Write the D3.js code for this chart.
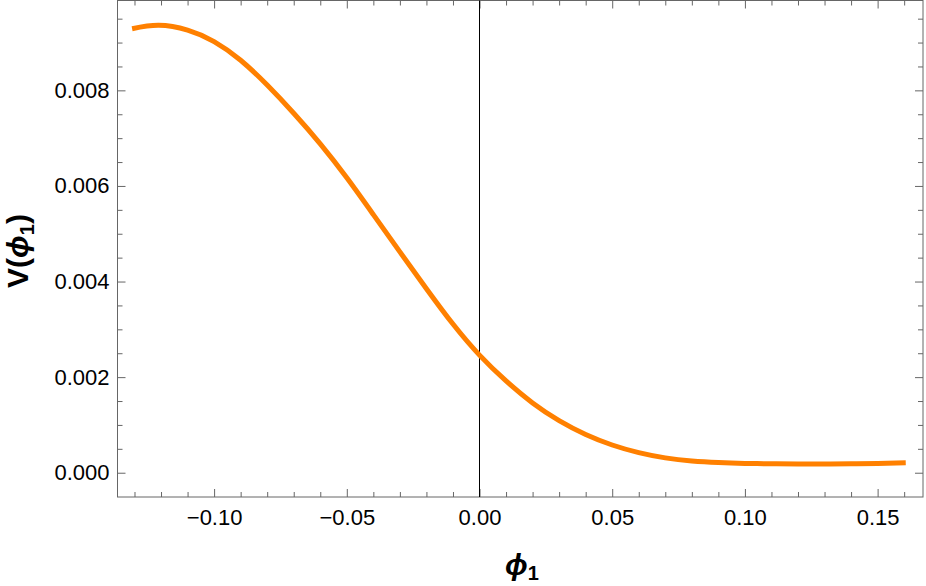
<!DOCTYPE html>
<head>
  <meta charset="UTF-8">
  <script src="https://d3js.org/d3.v7.min.js"></script>
  <style>
    body { margin: 0; background: #fff; }
    svg { display: block; font-family: "Liberation Sans", Arial, sans-serif; }
  </style>
</head>
<body>
<svg></svg>
<script>

var width = 926, height = 586;

// curve: phi_1 vs V(phi_1)
var phiVals = [-0.1309, -0.1209, -0.1100, -0.1000, -0.0900, -0.0800, -0.0700, -0.0600,
               -0.0500, -0.0400, -0.0300, -0.0200, -0.0100, 0.0000, 0.0100, 0.0200,
               0.0300, 0.0400, 0.0500, 0.0600, 0.0700, 0.0800, 0.0900, 0.1000,
               0.1100, 0.1200, 0.1300, 0.1400, 0.1500, 0.1606];
var vVals = [0.00929, 0.00936, 0.00926, 0.00902, 0.00863, 0.00811, 0.00752, 0.00688,
             0.00617, 0.00540, 0.00462, 0.00385, 0.00311, 0.00246, 0.00192, 0.00146,
             0.00109, 0.00080, 0.00058, 0.00042, 0.00031, 0.000245, 0.000212, 0.000195,
             0.000187, 0.000183, 0.000182, 0.000186, 0.000195, 0.000209];

var xTicks = [-0.10, -0.05, 0.00, 0.05, 0.10, 0.15];
var xTickLabels = ["\u22120.10", "\u22120.05", "0.00", "0.05", "0.10", "0.15"];
var yTicks = [0.000, 0.002, 0.004, 0.006, 0.008];
var yTickLabels = ["0.000", "0.002", "0.004", "0.006", "0.008"];

var pLeft = 117.5, pRight = 923, pTop = 0.5, pBottom = 497;

var x = d3.scaleLinear().domain([-0.1364, 0.1671]).range([pLeft, pRight]);
var y = d3.scaleLinear().domain([-0.000508, 0.00988]).range([pBottom, pTop]);

var xMinor = d3.range(-13, 17).map(function(i){ return i / 100; })
  .filter(function(v){ return xTicks.every(function(t){ return Math.abs(t - v) > 1e-9; }); });
var yMinor = d3.range(0, 20).map(function(i){ return i * 0.0005; })
  .filter(function(v){ return yTicks.every(function(t){ return Math.abs(t - v) > 1e-9; }); });

var svg = d3.select("svg").attr("width", width).attr("height", height);

var frameColor = "#666";

function styleAxis(g) {
  g.attr("font-size", null).attr("font-family", null);
  g.select(".domain").remove();
  g.selectAll(".tick line").attr("stroke", frameColor).attr("stroke-width", 1);
  g.selectAll(".tick text").attr("fill", "#000").style("font-size", "22px");
}

// bottom
svg.append("g").attr("transform", "translate(0," + pBottom + ")")
  .call(d3.axisBottom(x).tickValues(xTicks).tickSize(-8).tickPadding(12)
    .tickFormat(function(d, i){ return xTickLabels[i]; }))
  .call(styleAxis);
svg.append("g").attr("transform", "translate(0," + pBottom + ")")
  .call(d3.axisBottom(x).tickValues(xMinor).tickSize(-5).tickFormat(""))
  .call(styleAxis);
// top
svg.append("g").attr("transform", "translate(0," + pTop + ")")
  .call(d3.axisTop(x).tickValues(xTicks).tickSize(-8).tickFormat(""))
  .call(styleAxis);
svg.append("g").attr("transform", "translate(0," + pTop + ")")
  .call(d3.axisTop(x).tickValues(xMinor).tickSize(-5).tickFormat(""))
  .call(styleAxis);
// left
svg.append("g").attr("transform", "translate(" + pLeft + ",0)")
  .call(d3.axisLeft(y).tickValues(yTicks).tickSize(-8).tickPadding(8)
    .tickFormat(function(d, i){ return yTickLabels[i]; }))
  .call(styleAxis);
svg.append("g").attr("transform", "translate(" + pLeft + ",0)")
  .call(d3.axisLeft(y).tickValues(yMinor).tickSize(-5).tickFormat(""))
  .call(styleAxis);
// right
svg.append("g").attr("transform", "translate(" + pRight + ",0)")
  .call(d3.axisRight(y).tickValues(yTicks).tickSize(-8).tickFormat(""))
  .call(styleAxis);
svg.append("g").attr("transform", "translate(" + pRight + ",0)")
  .call(d3.axisRight(y).tickValues(yMinor).tickSize(-5).tickFormat(""))
  .call(styleAxis);

// frame
svg.append("rect")
  .attr("x", pLeft).attr("y", pTop)
  .attr("width", pRight - pLeft).attr("height", pBottom - pTop)
  .attr("fill", "none").attr("stroke", frameColor).attr("stroke-width", 1);

// vertical axis line at phi = 0
svg.append("line")
  .attr("x1", x(0)).attr("x2", x(0))
  .attr("y1", pTop).attr("y2", pBottom)
  .attr("stroke", "#000").attr("stroke-width", 1);

// curve
var pts = phiVals.map(function(p, i){ return [p, vVals[i]]; });
var line = d3.line()
  .x(function(d){ return x(d[0]); })
  .y(function(d){ return y(d[1]); })
  .curve(d3.curveNatural);

svg.append("path")
  .datum(pts)
  .attr("d", line)
  .attr("fill", "none")
  .attr("stroke", "#ff8000")
  .attr("stroke-width", 5)
  .attr("stroke-linecap", "butt")
  .attr("stroke-linejoin", "round");

// axis labels
var yl = svg.append("text")
  .attr("transform", "translate(28,251) rotate(-90)")
  .attr("text-anchor", "middle")
  .style("font-size", "30px").style("font-weight", "bold");
yl.append("tspan").text("V(");
yl.append("tspan").style("font-style", "italic").text("\u03d5");
yl.append("tspan").attr("dy", 6).style("font-size", "20px").text("1");
yl.append("tspan").attr("dy", -6).text(")");

var xl = svg.append("text")
  .attr("x", 522).attr("y", 575)
  .attr("text-anchor", "middle")
  .style("font-size", "30px").style("font-weight", "bold");
xl.append("tspan").style("font-style", "italic").text("\u03d5");
xl.append("tspan").attr("dy", 5).style("font-size", "20px").text("1");

</script>
</body>
